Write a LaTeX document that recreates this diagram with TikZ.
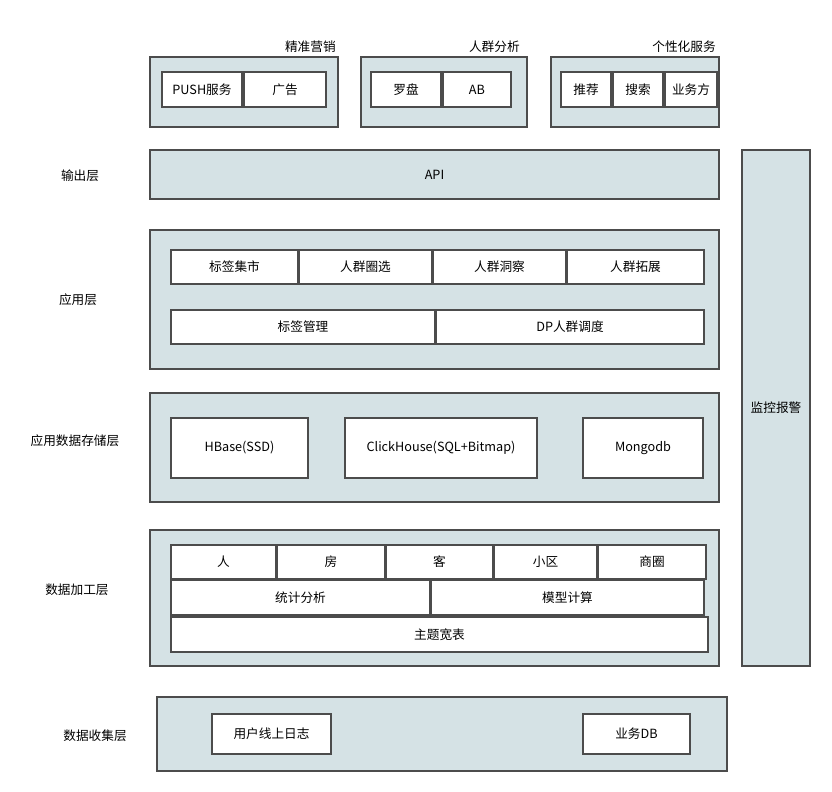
\documentclass[tikz,border=0pt]{standalone}
\usepackage{fontspec}
\setmainfont{Noto Sans CJK SC}
\begin{document}
\begin{tikzpicture}[x=0.75pt,y=-0.75pt,
  grp/.style={draw=black!70,fill={rgb,255:red,213;green,226;blue,229},line width=1pt},
  cell/.style={draw=black!70,fill=white,line width=0.8pt},
  txt/.style={font=\fontsize{9.5}{11}\selectfont,inner sep=0pt}]
\useasboundingbox (0,0) rectangle (832,792);
\newcommand\gbox[5]{\draw[grp] (#1,#2) rectangle (#3,#4); \node[txt] at ({(#1+#3)/2},{(#2+#4)/2}) {#5};}
\newcommand\cbox[5]{\draw[cell] (#1,#2) rectangle (#3,#4); \node[txt] at ({(#1+#3)/2},{(#2+#4)/2}) {#5};}
% top groups
\gbox{150}{57}{338}{127}{}
\node[txt,anchor=east] (l1) at (336,47) {精准营销};
\cbox{162}{72}{242}{107}{PUSH服务}
\cbox{244}{72}{326}{107}{广告}
\gbox{361}{57}{527}{127}{}
\node[txt,anchor=east] (l2) at (520,47) {人群分析};
\cbox{371}{72}{441}{107}{罗盘}
\cbox{443}{72}{511}{107}{AB}
\gbox{551}{57}{719}{127}{}
\node[txt,anchor=east] (l3) at (716,47) {个性化服务};
\cbox{561}{72}{611}{107}{推荐}
\cbox{613}{72}{663}{107}{搜索}
\cbox{665}{72}{717}{107}{业务方}
% output
\node[txt] (o) at (80,176) {输出层};
\gbox{150}{150}{719}{199}{API}
\gbox{742}{150}{810}{666}{监控报警}
% app
\node[txt] (a) at (78,300) {应用层};
\gbox{150}{230}{719}{369}{}
\cbox{171}{250}{298}{284}{标签集市}
\cbox{299}{250}{432}{284}{人群圈选}
\cbox{433}{250}{566}{284}{人群洞察}
\cbox{567}{250}{704}{284}{人群拓展}
\cbox{171}{310}{435}{344}{标签管理}
\cbox{436}{310}{704}{344}{DP人群调度}
% storage
\node[txt] (s) at (75,441) {应用数据存储层};
\gbox{150}{393}{719}{502}{}
\cbox{171}{418}{308}{478}{HBase(SSD)}
\cbox{345}{418}{537}{478}{ClickHouse(SQL+Bitmap)}
\cbox{583}{418}{703}{478}{Mongodb}
% processing
\node[txt] (p) at (77,590) {数据加工层};
\gbox{150}{530}{719}{666}{}
\cbox{171}{545}{276}{579}{人}
\cbox{277}{545}{385}{579}{房}
\cbox{386}{545}{493}{579}{客}
\cbox{494}{545}{597}{579}{小区}
\cbox{598}{545}{706}{579}{商圈}
\cbox{171}{580}{430}{615}{统计分析}
\cbox{431}{580}{704}{615}{模型计算}
\cbox{171}{617}{708}{652}{主题宽表}
% collection
\node[txt] (c) at (95,736) {数据收集层};
\gbox{157}{697}{727}{771}{}
\cbox{212}{714}{331}{754}{用户线上日志}
\cbox{583}{714}{690}{754}{业务DB}
\end{tikzpicture}
\end{document}
